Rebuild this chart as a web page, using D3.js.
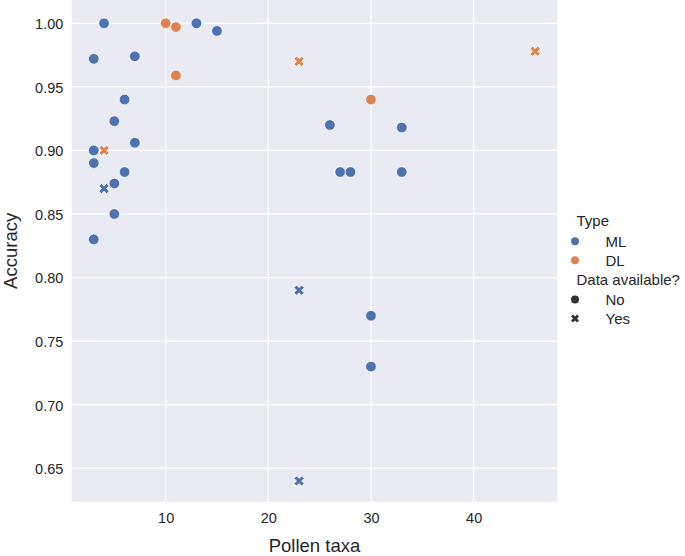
<!DOCTYPE html>
<html>
<head>
<meta charset="utf-8">
<script src="https://cdn.jsdelivr.net/npm/d3@7"></script>
<style>
  html, body { margin: 0; padding: 0; background: #fff; }
  svg { display: block; font-family: "Liberation Sans", Arial, sans-serif; }
</style>
</head>
<body>
<svg id="chart" width="685" height="556"></svg>
<script>
// ---- data ----
const taxa =      [4, 3, 7, 13, 15, 6, 5, 3, 7, 3, 6, 5, 5, 3, 26, 27, 28, 33, 33, 30, 30, 4, 23, 23, 10, 11, 11, 30, 4, 23, 46];
const accuracy =  [1.00, 0.972, 0.974, 1.00, 0.994, 0.94, 0.923, 0.90, 0.906, 0.89, 0.883, 0.874, 0.85, 0.83, 0.92, 0.883, 0.883, 0.918, 0.883, 0.77, 0.73, 0.87, 0.79, 0.64, 1.00, 0.997, 0.959, 0.94, 0.90, 0.97, 0.978];
const modelType = ["ML","ML","ML","ML","ML","ML","ML","ML","ML","ML","ML","ML","ML","ML","ML","ML","ML","ML","ML","ML","ML","ML","ML","ML","DL","DL","DL","DL","DL","DL","DL"];
const available = ["No","No","No","No","No","No","No","No","No","No","No","No","No","No","No","No","No","No","No","No","No","Yes","Yes","Yes","No","No","No","No","Yes","Yes","Yes"];
const typeLevels = ["ML", "DL"];
const availLevels = ["No", "Yes"];
const xTicks = [10, 20, 30, 40];
const yTicks = [0.65, 0.70, 0.75, 0.80, 0.85, 0.90, 0.95, 1.00];

const points = taxa.map((t, i) => ({ x: t, y: accuracy[i], type: modelType[i], avail: available[i] }));

// ---- layout ----
const svg = d3.select("#chart");
const plot = { left: 71.7, right: 557.3, top: 0, bottom: 501.7 };
const textColor = "#262626";

const x = d3.scaleLinear().domain([0.85, 48.15]).range([plot.left, plot.right]);
const y = d3.scaleLinear().domain([0.6237, 1.0183]).range([plot.bottom, plot.top]);
const color = d3.scaleOrdinal().domain(typeLevels).range(["#4c72b0", "#dd8452"]);

// background
svg.append("rect")
  .attr("x", plot.left).attr("y", plot.top)
  .attr("width", plot.right - plot.left).attr("height", plot.bottom - plot.top)
  .attr("fill", "#eaeaf2");

// grid
const g = svg.append("g");
g.selectAll("line.vx").data(xTicks).join("line")
  .attr("x1", d => x(d)).attr("x2", d => x(d))
  .attr("y1", plot.top).attr("y2", plot.bottom)
  .attr("stroke", "#fff").attr("stroke-width", 1.25);
g.selectAll("line.hy").data(yTicks).join("line")
  .attr("y1", d => y(d)).attr("y2", d => y(d))
  .attr("x1", plot.left).attr("x2", plot.right)
  .attr("stroke", "#fff").attr("stroke-width", 1.25);

// axes (ticks via d3 axes, styled like seaborn darkgrid: no lines)
const xAxis = svg.append("g")
  .attr("transform", `translate(0,${plot.bottom})`)
  .call(d3.axisBottom(x).tickValues(xTicks).tickFormat(d3.format("d")).tickSize(0).tickPadding(0));
xAxis.select(".domain").remove();
xAxis.selectAll("text")
  .attr("y", 21.6).attr("dy", null)
  .attr("fill", textColor).style("font-size", "14.5px").style("font-family", "Liberation Sans, Arial, sans-serif");

const yAxis = svg.append("g")
  .attr("transform", `translate(${plot.left},0)`)
  .call(d3.axisLeft(y).tickValues(yTicks).tickFormat(d3.format(".2f")).tickSize(0).tickPadding(8.4));
yAxis.select(".domain").remove();
yAxis.selectAll("text")
  .attr("dy", "0.37em")
  .attr("fill", textColor).style("font-size", "14.5px").style("font-family", "Liberation Sans, Arial, sans-serif");

// axis labels
svg.append("text")
  .attr("x", (plot.left + plot.right) / 2).attr("y", 551.5)
  .attr("text-anchor", "middle").attr("fill", textColor)
  .style("font-size", "18.5px").text("Pollen taxa");
svg.append("text")
  .attr("transform", `translate(16.5,${(plot.top + plot.bottom) / 2}) rotate(-90)`)
  .attr("text-anchor", "middle").attr("fill", textColor)
  .style("font-size", "18.5px").text("Accuracy");

// marker: matplotlib filled 'X'
const xPts = [[-1,-2],[0,-1],[1,-2],[2,-1],[1,0],[2,1],[1,2],[0,1],[-1,2],[-2,1],[-1,0],[-2,-1]];
function xPath(s) {
  return "M" + xPts.map(p => [p[0] * s, p[1] * s].join(",")).join("L") + "Z";
}

const marks = svg.append("g");
points.forEach(p => {
  if (p.avail === "No") {
    marks.append("circle")
      .attr("cx", x(p.x)).attr("cy", y(p.y)).attr("r", 5.3)
      .attr("fill", color(p.type)).attr("stroke", "#fff").attr("stroke-width", 0.7);
  } else {
    marks.append("path")
      .attr("transform", `translate(${x(p.x)},${y(p.y)})`)
      .attr("d", xPath(2.55))
      .attr("fill", color(p.type)).attr("stroke", "#fff").attr("stroke-width", 0.7);
  }
});

// legend
const leg = svg.append("g").style("font-size", "15px").attr("fill", textColor);
const lx = 576.5, mx = 575, tx = 605.5;
leg.append("text").attr("x", lx).attr("y", 220.7).attr("dy", "0.36em").text("Type");
typeLevels.forEach((t, i) => {
  const yy = 241.2 + i * 19;
  leg.append("circle").attr("cx", mx).attr("cy", yy).attr("r", 4).attr("fill", color(t));
  leg.append("text").attr("x", tx).attr("y", yy).attr("dy", "0.36em").text(t);
});
leg.append("text").attr("x", lx).attr("y", 279.6).attr("dy", "0.36em").text("Data available?");
availLevels.forEach((a, i) => {
  const yy = 299.5 + i * 19;
  if (a === "No") {
    leg.append("circle").attr("cx", mx).attr("cy", yy).attr("r", 4).attr("fill", "#333333");
  } else {
    leg.append("path").attr("transform", `translate(${mx},${yy})`).attr("d", xPath(2)).attr("fill", "#333333");
  }
  leg.append("text").attr("x", tx).attr("y", yy).attr("dy", "0.36em").text(a);
});
</script>
</body>
</html>
